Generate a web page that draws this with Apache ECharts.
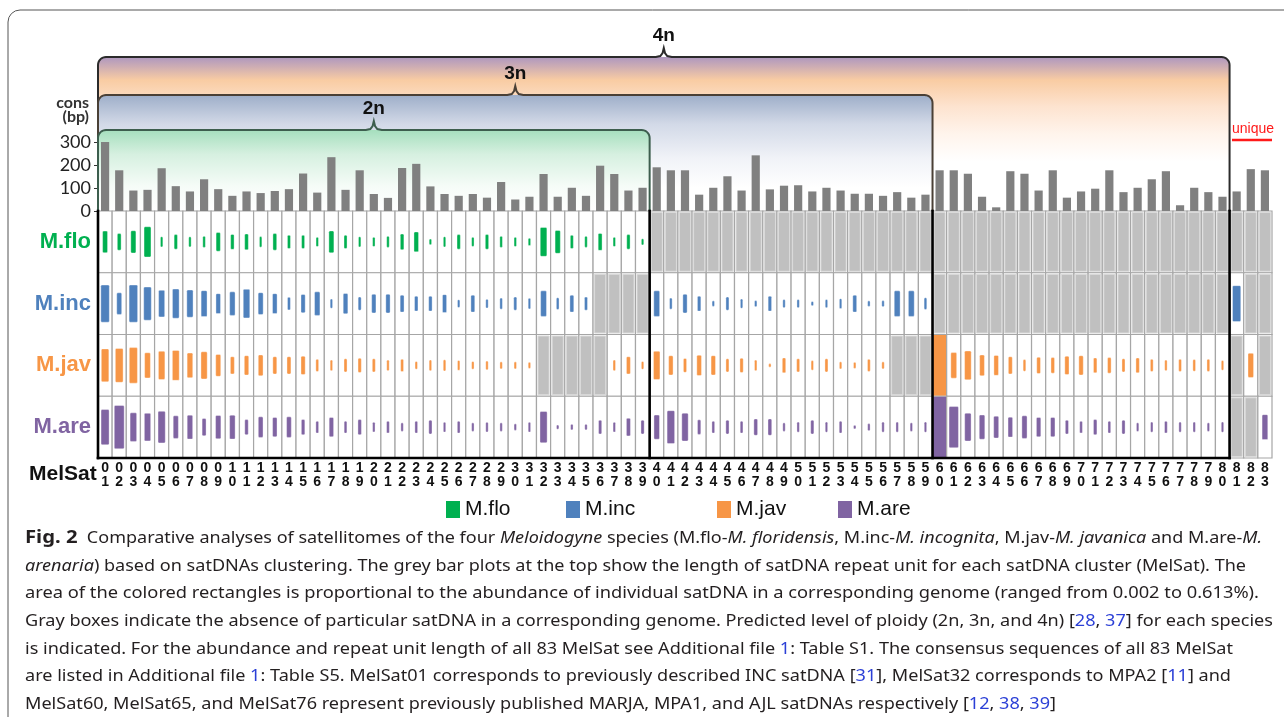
<!DOCTYPE html>
<html>
<head>
<meta charset="utf-8">
<title>MelSat satellitomes</title>
<script src="https://cdn.jsdelivr.net/npm/echarts@6/dist/echarts.min.js"></script>
<style>
    html, body { margin: 0; padding: 0; background: #fff; }
    #main { width: 1284px; height: 717px; }
</style>
</head>
<body>
<div id="main"></div>
<script>
// MelSat clusters 01..83
const melsat = Array.from({ length: 83 }, (_, i) => String(i + 1).padStart(2, '0'));
const species = ['M.flo', 'M.inc', 'M.jav', 'M.are'];
const speciesColor = ['#00b050', '#4f81bd', '#f79646', '#8064a2'];

// consensus repeat unit length (bp)
const consBp = [
    300, 177, 89, 92, 186, 108, 85, 138, 95, 66,
    85, 78, 87, 95, 163, 80, 234, 92, 177, 74,
    57, 187, 205, 107, 74, 66, 74, 58, 126, 50,
    62, 161, 62, 101, 66, 197, 161, 89, 101, 190,
    177, 177, 71, 101, 151, 89, 242, 94, 110, 112,
    85, 101, 89, 75, 75, 66, 82, 58, 71, 177,
    177, 162, 62, 16, 173, 162, 89, 177, 58, 85,
    97, 177, 82, 101, 138, 173, 25, 101, 82, 62,
    85, 182, 177
];

// abundance in genome (%), null = satDNA absent (gray box)
const flo = [
    0.075, 0.044, 0.080, 0.147, 0.017, 0.034, 0.017, 0.020, 0.056, 0.036,
    0.041, 0.018, 0.044, 0.028, 0.028, 0.014, 0.077, 0.028, 0.017, 0.014,
    0.020, 0.039, 0.064, 0.005, 0.017, 0.034, 0.014, 0.034, 0.020, 0.014,
    0.009, 0.134, 0.084, 0.028, 0.020, 0.046, 0.014, 0.034, 0.006, null,
    null, null, null, null, null, null, null, null, null, null,
    null, null, null, null, null, null, null, null, null, null,
    null, null, null, null, null, null, null, null, null, null,
    null, null, null, null, null, null, null, null, null, null,
    null, null, null
];
const inc = [
    0.222, 0.075, 0.222, 0.177, 0.113, 0.137, 0.119, 0.108, 0.064, 0.089,
    0.131, 0.077, 0.064, 0.026, 0.054, 0.089, 0.014, 0.066, 0.028, 0.056,
    0.056, 0.046, 0.036, 0.036, 0.052, 0.010, 0.046, 0.013, 0.020, 0.028,
    0.018, 0.105, 0.022, 0.046, 0.028, null, null, null, null, 0.105,
    0.020, 0.056, 0.036, 0.005, 0.028, 0.014, 0.006, 0.036, 0.011, 0.011,
    0.003, 0.011, 0.016, 0.046, 0.005, 0.006, 0.105, 0.105, 0.022, null,
    null, null, null, null, null, null, null, null, null, null,
    null, null, null, null, null, null, null, null, null, null,
    0.207, null, null
];
const jav = [
    0.174, 0.184, 0.203, 0.102, 0.128, 0.144, 0.097, 0.119, 0.077, 0.048,
    0.060, 0.070, 0.048, 0.048, 0.054, 0.024, 0.018, 0.028, 0.033, 0.028,
    0.018, 0.025, 0.010, 0.019, 0.020, 0.016, 0.010, 0.013, 0.008, 0.008,
    0.006, null, null, null, null, null, 0.019, 0.048, 0.010, 0.128,
    0.060, 0.031, 0.066, 0.060, 0.028, 0.033, 0.018, 0.002, 0.036, 0.028,
    0.015, 0.028, 0.008, 0.006, 0.024, 0.008, null, null, null, 0.600,
    0.105, 0.134, 0.070, 0.064, 0.048, 0.022, 0.043, 0.039, 0.054, 0.060,
    0.036, 0.039, 0.028, 0.036, 0.024, 0.018, 0.024, 0.022, 0.024, 0.015,
    null, 0.094, null
];
const are = [
    0.199, 0.300, 0.131, 0.122, 0.160, 0.082, 0.092, 0.048, 0.087, 0.092,
    0.037, 0.068, 0.060, 0.068, 0.037, 0.023, 0.060, 0.023, 0.037, 0.016,
    0.023, 0.012, 0.023, 0.031, 0.016, 0.023, 0.012, 0.016, 0.012, 0.007,
    0.016, 0.157, 0.003, 0.005, 0.005, 0.031, 0.016, 0.050, 0.031, 0.094,
    0.174, 0.125, 0.034, 0.023, 0.031, 0.023, 0.043, 0.043, 0.012, 0.017,
    0.031, 0.017, 0.023, 0.002, 0.008, 0.017, 0.017, 0.012, 0.017, 0.613,
    0.272, 0.125, 0.094, 0.077, 0.064, 0.082, 0.060, 0.060, 0.031, 0.023,
    0.037, 0.023, 0.031, 0.012, 0.017, 0.023, 0.017, 0.017, 0.012, 0.017,
    null, null, 0.100
];
const abund = [flo, inc, jav, are];
const maxAb = 0.613;

// ploidy groups: last MelSat of each group
const ploidyName = ['2n', '3n', '4n'];
const ploidyLast = [39, 59, 80];

// caption (segments: n normal, i italic, b bold, r reference)
const capLines = [
    [['b', 'Fig. 2'], ['n', '  Comparative analyses of satellitomes of the four '], ['i', 'Meloidogyne'], ['n', ' species (M.flo-'], ['i', 'M. floridensis'], ['n', ', M.inc-'], ['i', 'M. incognita'], ['n', ', M.jav-'], ['i', 'M. javanica'], ['n', ' and M.are-'], ['i', 'M.']],
    [['i', 'arenaria'], ['n', ') based on satDNAs clustering. The grey bar plots at the top show the length of satDNA repeat unit for each satDNA cluster (MelSat). The']],
    [['n', 'area of the colored rectangles is proportional to the abundance of individual satDNA in a corresponding genome (ranged from 0.002 to 0.613%).']],
    [['n', 'Gray boxes indicate the absence of particular satDNA in a corresponding genome. Predicted level of ploidy (2n, 3n, and 4n) ['], ['r', '28'], ['n', ', '], ['r', '37'], ['n', '] for each species']],
    [['n', 'is indicated. For the abundance and repeat unit length of all 83 MelSat see Additional file '], ['r', '1'], ['n', ': Table S1. The consensus sequences of all 83 MelSat']],
    [['n', 'are listed in Additional file '], ['r', '1'], ['n', ': Table S5. MelSat01 corresponds to previously described INC satDNA ['], ['r', '31'], ['n', '], MelSat32 corresponds to MPA2 ['], ['r', '11'], ['n', '] and']],
    [['n', 'MelSat60, MelSat65, and MelSat76 represent previously published MARJA, MPA1, and AJL satDNAs respectively ['], ['r', '12'], ['n', ', '], ['r', '38'], ['n', ', '], ['r', '39'], ['n', ']']]
];
const capEnd = [1262, 1246, 1259, 1273, 1233, 1231, 1056];
const capY = [538, 566, 593, 621, 649, 676, 704];

(function () {
    let myChart = echarts.init(document.getElementById('main'));
    const arial = '"Liberation Sans", Arial, sans-serif';

    // one cell of the abundance matrix
    function renderCell(params, api) {
        const v = api.value(2);
        const c = api.coord([api.value(0), api.value(1)]);
        const sz = api.size([1, 1]);
        const cw = sz[0], ch = sz[1];
        const x0 = c[0] - cw / 2, y0 = c[1] - ch / 2;
        const kids = [{
            type: 'rect',
            shape: { x: x0, y: y0, width: cw, height: ch },
            style: { fill: '#fff', stroke: '#a6a6a6', lineWidth: 1.2 }
        }];
        if (v < 0) {
            kids.push({
                type: 'rect',
                shape: { x: x0 + 1.5, y: y0 + 1.5, width: cw - 3, height: ch - 3 },
                style: { fill: '#c0c0c0', stroke: '#dadada', lineWidth: 1 }
            });
        } else {
            const s = Math.min(1, Math.sqrt(v / maxAb));
            const color = api.visual('color');
            if (s > 0.97) {
                kids.push({ type: 'rect', shape: { x: x0 + 0.5, y: y0 + 0.5, width: cw - 1, height: ch - 1 }, style: { fill: color } });
            } else {
                const w = Math.max(2.4, s * cw), h = Math.max(3, s * ch);
                kids.push({
                    type: 'rect',
                    shape: { x: c[0] - w / 2, y: c[1] - h / 2, width: w, height: h, r: 1.2 },
                    style: { fill: color, stroke: 'rgba(255,255,255,0.6)', lineWidth: 0.6 }
                });
            }
        }
        return { type: 'group', children: kids };
    }

    const legendLeft = [446, 566, 717, 838];
    const rich = {};
    species.forEach((n, i) => {
        rich['s' + i] = { color: speciesColor[i], fontSize: 22, fontWeight: 'bold', fontFamily: arial };
    });

    let option = {
        animation: false,
        grid: [
            { left: 98, right: 12, top: 142, bottom: 506 },
            { left: 98, right: 12, top: 211, bottom: 259 }
        ],
        xAxis: [
            {
                gridIndex: 0, type: 'category', data: melsat,
                axisLine: { show: false }, axisTick: { show: false }, axisLabel: { show: false }
            },
            {
                gridIndex: 1, type: 'category', data: melsat,
                axisLine: { show: false }, axisTick: { show: false },
                axisLabel: {
                    interval: 0, margin: 3,
                    formatter: v => v[0] + '\n' + v[1],
                    fontFamily: arial,
                    fontWeight: 'bold', fontSize: 14, lineHeight: 14, color: '#111'
                }
            }
        ],
        yAxis: [
            {
                gridIndex: 0, type: 'value', min: 0, max: 300, interval: 100,
                splitLine: { show: false }, axisLine: { show: false },
                axisTick: { show: true, length: 4, lineStyle: { color: '#333' } },
                axisLabel: { fontFamily: 'Lato, sans-serif', fontSize: 18, color: '#222', margin: 7 }
            },
            {
                gridIndex: 1, type: 'category', data: species, inverse: true,
                axisLine: { show: false }, axisTick: { show: false }, splitLine: { show: false },
                axisLabel: { margin: 7, formatter: (v, i) => '{s' + i + '|' + v + '}', rich: rich }
            }
        ],
        legend: species.map((n, i) => ({
            data: [n], left: legendLeft[i], top: 499, padding: 0,
            icon: 'rect', itemWidth: 14, itemHeight: 17, selectedMode: false,
            textStyle: { fontSize: 21, color: '#111', fontFamily: arial }
        })),
        series: [
            {
                type: 'bar', xAxisIndex: 0, yAxisIndex: 0, data: consBp,
                barWidth: '58%', itemStyle: { color: '#808080' }, silent: true, z: 5
            }
        ].concat(species.map((n, k) => ({
            type: 'custom', name: n, xAxisIndex: 1, yAxisIndex: 1, z: 2,
            itemStyle: { color: speciesColor[k] },
            renderItem: renderCell,
            data: abund[k].map((v, i) => [i, k, v === null ? -1 : v])
        })))
    };
    myChart.setOption(option);

    // positions taken from the axes
    const xAt = i => myChart.convertToPixel({ xAxisIndex: 1 }, i);
    const bw = xAt(1) - xAt(0);
    const gLeft = xAt(0) - bw / 2;
    const edge = last => xAt(last - 1) + bw / 2;
    const yBase = myChart.convertToPixel({ yAxisIndex: 0 }, 0);
    const yAtRow = i => myChart.convertToPixel({ yAxisIndex: 1 }, i);
    const bh = yAtRow(1) - yAtRow(0);
    const gBottom = yAtRow(3) + bh / 2;

    function bracketPts(x0, x1, yTop, yBottom, r, tip) {
        const pts = [[x0, yBottom]];
        for (let a = 0; a <= 8; a++) {
            const t = Math.PI + a / 8 * Math.PI / 2;
            pts.push([x0 + r + r * Math.cos(t), yTop + r + r * Math.sin(t)]);
        }
        if (tip) {
            const cx = (x0 + x1) / 2;
            pts.push([cx - 8, yTop], [cx - 3.5, yTop - 1], [cx - 1.2, yTop - 4], [cx, yTop - 9],
                [cx + 1.2, yTop - 4], [cx + 3.5, yTop - 1], [cx + 8, yTop]);
        }
        for (let a = 0; a <= 8; a++) {
            const t = 1.5 * Math.PI + a / 8 * Math.PI / 2;
            pts.push([x1 - r + r * Math.cos(t), yTop + r + r * Math.sin(t)]);
        }
        pts.push([x1, yBottom]);
        return pts;
    }

    const bracketTop = [130, 95, 57];
    const bracketStroke = ['#3d5e4e', '#4a4036', '#2b2b2b'];
    const bracketFill = [
        [[0, '#a6dfbe'], [0.3, '#d6f0e0'], [0.7, '#f6fcf8'], [1, '#ffffff']],
        [[0, '#9eaec9'], [0.25, '#d2d9e7'], [0.55, '#f1f3f8'], [0.8, '#ffffff'], [1, '#ffffff']],
        [[0, '#ae97bf'], [0.15, '#f9cca3'], [0.32, '#fde3cf'], [0.5, '#fff4ec'], [0.68, '#ffffff'], [1, '#ffffff']]
    ];

    const g = [];
    g.push({
        type: 'rect', z: 0, silent: true,
        shape: { x: 8, y: 10, width: 1300, height: 730, r: 12 },
        style: { fill: 'none', stroke: '#555', lineWidth: 1 }
    });
    // fills, widest first
    for (let k = 2; k >= 0; k--) {
        const x1 = edge(ploidyLast[k]);
        g.push({
            type: 'polygon', z: 1, silent: true,
            shape: { points: bracketPts(gLeft, x1, bracketTop[k], yBase, 8, false) },
            style: {
                fill: new echarts.graphic.LinearGradient(0, 0, 0, 1,
                    bracketFill[k].map(s => ({ offset: s[0], color: s[1] })))
            }
        });
    }
    for (let k = 2; k >= 0; k--) {
        const x1 = edge(ploidyLast[k]);
        g.push({
            type: 'polyline', z: 6, silent: true,
            shape: { points: bracketPts(gLeft, x1, bracketTop[k], yBase, 8, true) },
            style: { fill: 'none', stroke: bracketStroke[k], lineWidth: 2 }
        });
        g.push({
            type: 'text', z: 6, silent: true,
            x: (gLeft + x1) / 2, y: bracketTop[k] - 21,
            style: {
                text: ploidyName[k], fontSize: 19, fontWeight: 'bold',
                fontFamily: arial, fill: '#111',
                align: 'center', verticalAlign: 'middle'
            }
        });
    }
    // black frame of the matrix
    const blackLines = [
        [gLeft, yBase, gLeft, gBottom],
        [gLeft, gBottom, edge(ploidyLast[2]), gBottom]
    ];
    ploidyLast.forEach(l => blackLines.push([edge(l), yBase, edge(l), gBottom]));
    blackLines.forEach(p => g.push({
        type: 'line', z: 7, silent: true,
        shape: { x1: p[0], y1: p[1], x2: p[2], y2: p[3] },
        style: { stroke: '#000', lineWidth: 2.6, lineCap: 'square' }
    }));

    const txt = (s, x, y, extra) => g.push({
        type: 'text', z: 8, silent: true, x: x, y: y,
        style: Object.assign({ text: s, verticalAlign: 'middle' }, extra)
    });
    txt('cons', 89, 103, { align: 'right', fontSize: 16, fontWeight: 'bold', fontFamily: 'Lato, sans-serif', fill: '#333' });
    txt('(bp)', 89, 117, { align: 'right', fontSize: 16, fontWeight: 'bold', fontFamily: 'Lato, sans-serif', fill: '#333' });
    txt('MelSat', 29, 474, { align: 'left', fontSize: 21, fontWeight: 'bold', fontFamily: arial, fill: '#111' });
    txt('unique', 1232, 129, { align: 'left', fontSize: 14, fontFamily: arial, fill: '#ff1a1a' });
    g.push({
        type: 'line', z: 8, silent: true,
        shape: { x1: 1232, y1: 140, x2: 1272, y2: 140 },
        style: { stroke: '#ff1a1a', lineWidth: 2.5 }
    });

    // caption, each line stretched to its measured end
    const capFamily = '"Noto Sans", "Open Sans", sans-serif';
    const capStyle = {
        n: { fontSize: 16, fill: '#231f20' },
        i: { fontSize: 16, fontStyle: 'italic', fill: '#231f20' },
        b: { fontSize: 18, fontWeight: 'bold', fill: '#231f20' },
        r: { fontSize: 16, fill: '#2b3fd6' }
    };
    const capRich = {};
    Object.keys(capStyle).forEach(k => { capRich[k] = Object.assign({ fontFamily: capFamily }, capStyle[k]); });
    const ctx = document.createElement('canvas').getContext('2d');
    const fontOf = st => (st.fontStyle || 'normal') + ' ' + (st.fontWeight || 'normal') + ' ' + st.fontSize + 'px ' + capFamily;
    capLines.forEach((line, li) => {
        let w = 0;
        line.forEach(seg => { ctx.font = fontOf(capStyle[seg[0]]); w += ctx.measureText(seg[1]).width; });
        const text = line.map(seg => '{' + seg[0] + '|' + seg[1] + '}').join('');
        g.push({
            type: 'text', z: 8, silent: true,
            x: 25, y: capY[li], scaleX: (capEnd[li] - 25) / w, originX: 0, originY: 0,
            style: { text: text, rich: capRich, fontSize: 16, fontFamily: capFamily, fill: '#231f20', align: 'left', verticalAlign: 'middle' }
        });
    });

    myChart.setOption({ graphic: { elements: g } });

    window.addEventListener('resize', function () {
        myChart.resize();
    });
})();
</script>
</body>
</html>
